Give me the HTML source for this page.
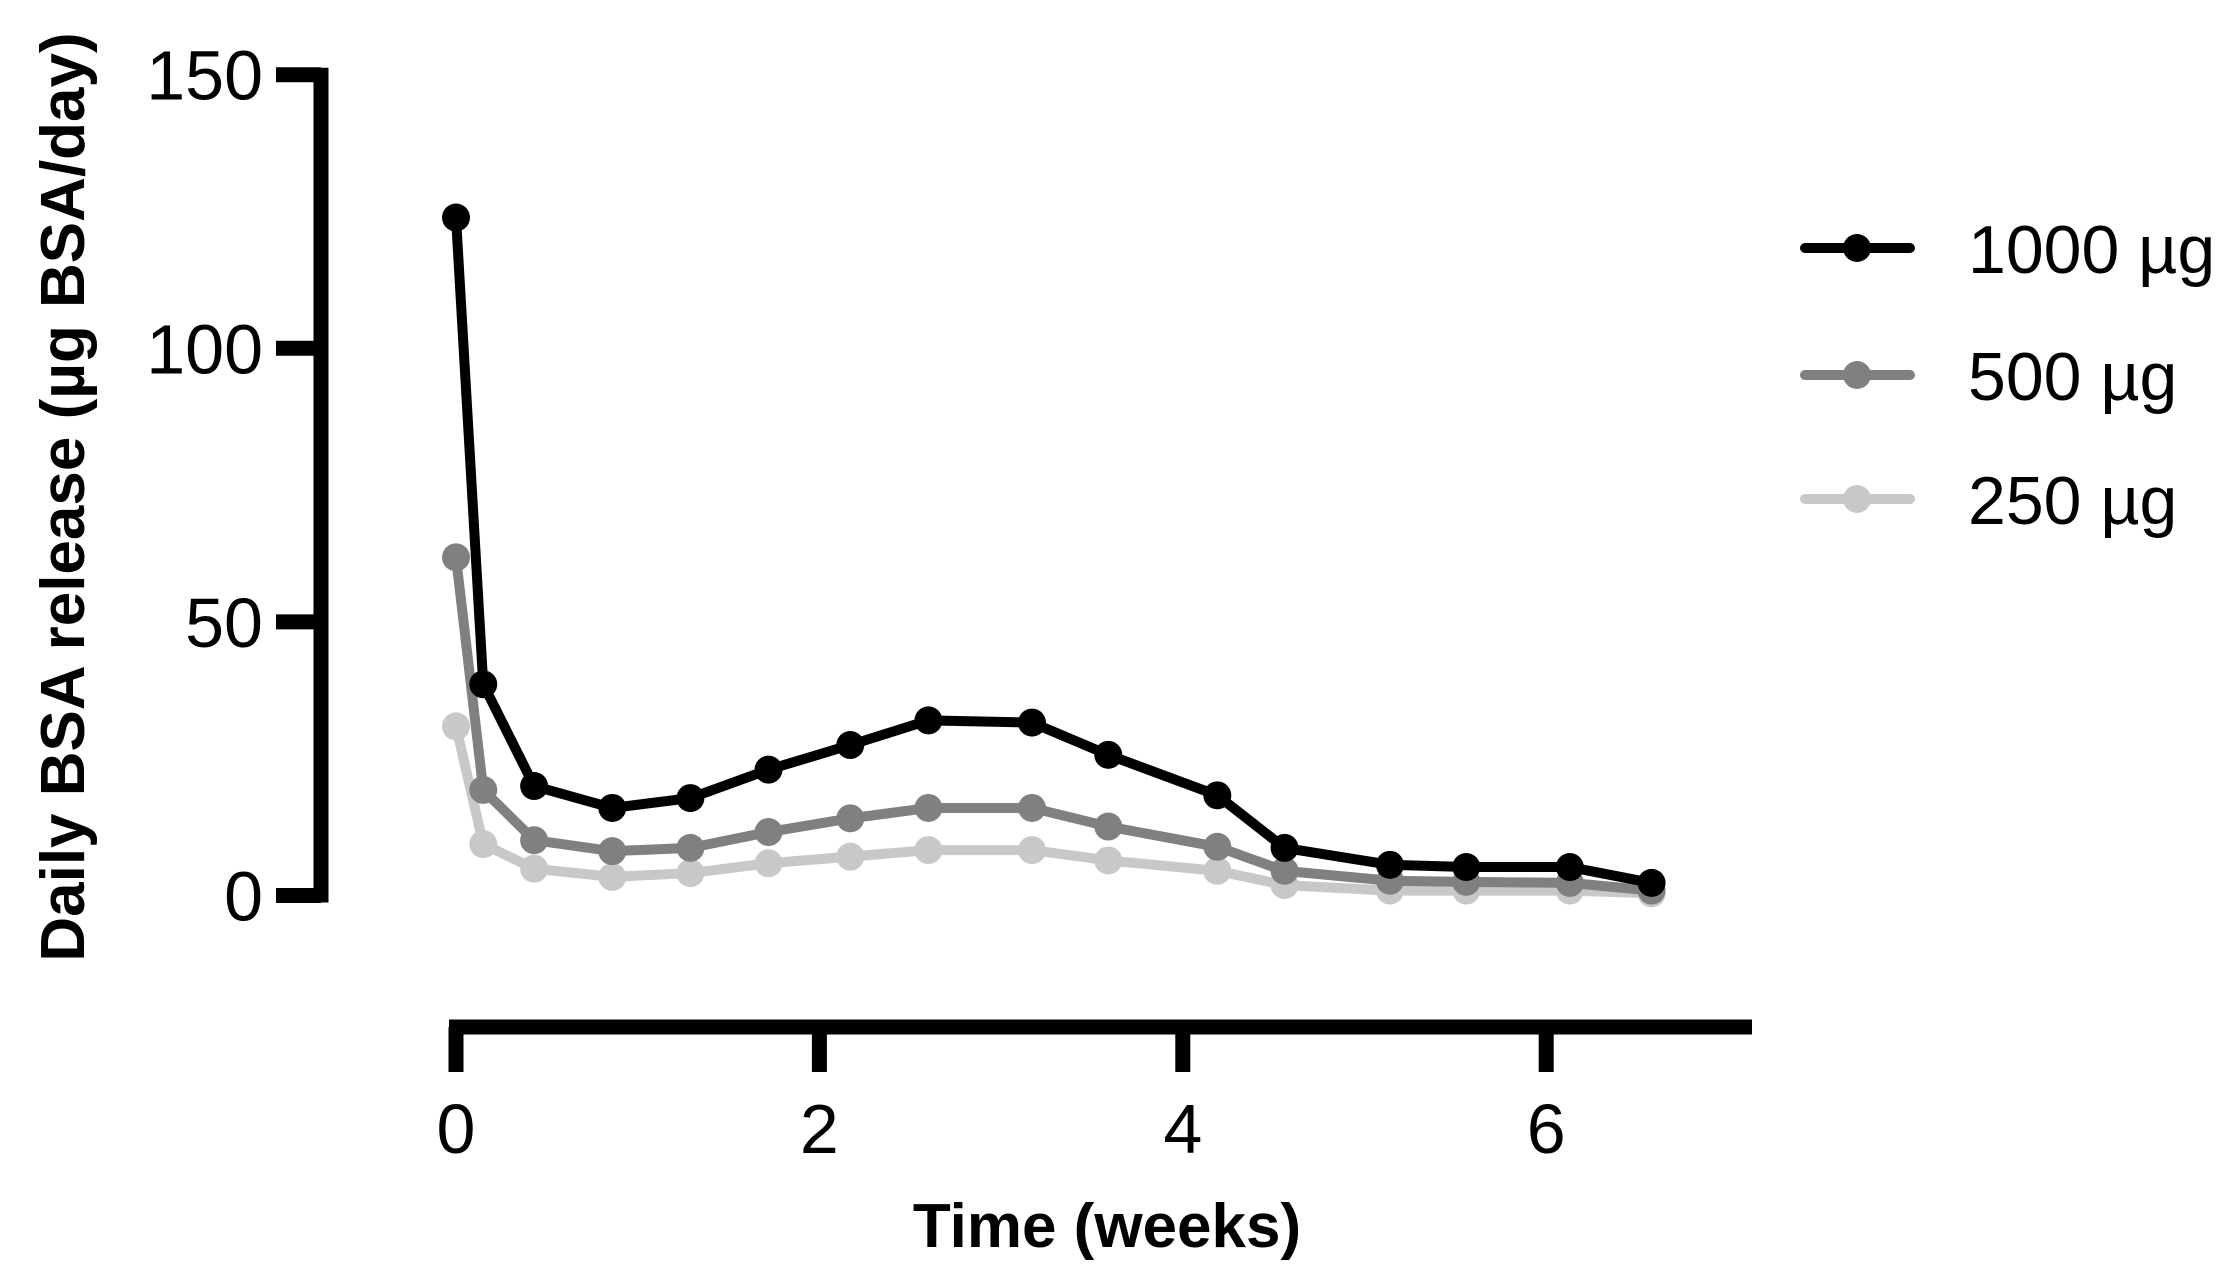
<!DOCTYPE html>
<html><head><meta charset="utf-8"><style>
html,body{margin:0;padding:0;background:#fff;}
svg text{font-family:"Liberation Sans",Arial,sans-serif;}
</style></head><body>
<svg id="chart" width="2229" height="1273" viewBox="0 0 2229 1273" xmlns="http://www.w3.org/2000/svg">
<g id="yaxis"></g>
<g id="xaxis"></g>
<g id="series"></g>
<g id="legend"></g>
<text x="1107" y="1247" text-anchor="middle" font-size="62" font-weight="bold">Time (weeks)</text>
<text transform="translate(84,497) rotate(-90)" text-anchor="middle" font-size="62" font-weight="bold">Daily BSA release (µg BSA/day)</text>
</svg>
<script>
const weeks = [0.0,0.15,0.43,0.86,1.29,1.72,2.17,2.6,3.17,3.59,4.19,4.56,5.14,5.56,6.13,6.58];
const s1000 = [123.9,38.6,20.0,16.0,17.8,23.0,27.5,32.0,31.6,25.7,18.3,8.7,5.6,5.2,5.2,2.3];
const s500 = [61.8,19.3,10.1,8.1,8.7,11.6,14.1,16.0,16.0,12.6,8.9,4.5,2.7,2.5,2.3,0.9];
const s250 = [30.9,9.4,4.9,3.4,4.1,5.9,7.1,8.3,8.3,6.4,4.5,1.9,0.9,0.9,0.9,0.4];
const seriesNames = ["1000 µg","500 µg","250 µg"];
const yTicks = [0,50,100,150];
const xTicks = [0,2,4,6];
const NS="http://www.w3.org/2000/svg";
function X(v){return 456+v*181.7;}
function Y(v){return 895.5-v*5.472;}
function mk(tag,attrs,parent){const e=document.createElementNS(NS,tag);for(const k in attrs)e.setAttribute(k,attrs[k]);parent.appendChild(e);return e;}
const ya=document.getElementById('yaxis'),xa=document.getElementById('xaxis'),sg=document.getElementById('series'),lg=document.getElementById('legend');
let l=mk('line',{x1:321,x2:321,y1:Y(150)-7,y2:Y(0)+7,stroke:'#000','stroke-width':15},ya);


yTicks.forEach(t=>{
  const tk=mk('line',{x1:276,x2:321,y1:Y(t),y2:Y(t),stroke:'#000','stroke-width':15},ya);
  
  
  const tx=mk('text',{x:263,y:Y(t)+25,'text-anchor':'end','font-size':70},ya);
  tx.textContent=t;
  
  
});
l=mk('line',{x1:449,x2:1752,y1:1027,y2:1027,stroke:'#000','stroke-width':15},xa);


xTicks.forEach(t=>{
  const tk=mk('line',{x1:X(t),x2:X(t),y1:1027,y2:1072,stroke:'#000','stroke-width':15},xa);
  
  
  const tx=mk('text',{x:X(t),y:1153,'text-anchor':'middle','font-size':70},xa);
  tx.textContent=t;
  
  
});
const sets=[[s250,'#c8c8c8'],[s500,'#808080'],[s1000,'#000000']];
sets.forEach(([vals,col])=>{
  const pl=mk('polyline',{points:vals.map((v,i)=>X(weeks[i])+','+Y(v)).join(' '),fill:'none',stroke:col,'stroke-width':10,'stroke-linejoin':'round'},sg);
  
  
  vals.forEach((v,i)=>{
    const c=mk('circle',{cx:X(weeks[i]),cy:Y(v),r:14,fill:col},sg);
    
    
  });
});
const lcols=['#000000','#808080','#c8c8c8'],ly=[248,375,499];
seriesNames.forEach((n,i)=>{
  const ln=mk('line',{x1:1805,x2:1910,y1:ly[i],y2:ly[i],stroke:lcols[i],'stroke-width':10,'stroke-linecap':'round'},lg);
  
  
  const c=mk('circle',{cx:1857,cy:ly[i],r:14,fill:lcols[i]},lg);
  
  
  const t=mk('text',{x:1968,y:ly[i]+25,'font-size':68},lg);
  t.textContent=n;
  
  
});
</script>
</body></html>
